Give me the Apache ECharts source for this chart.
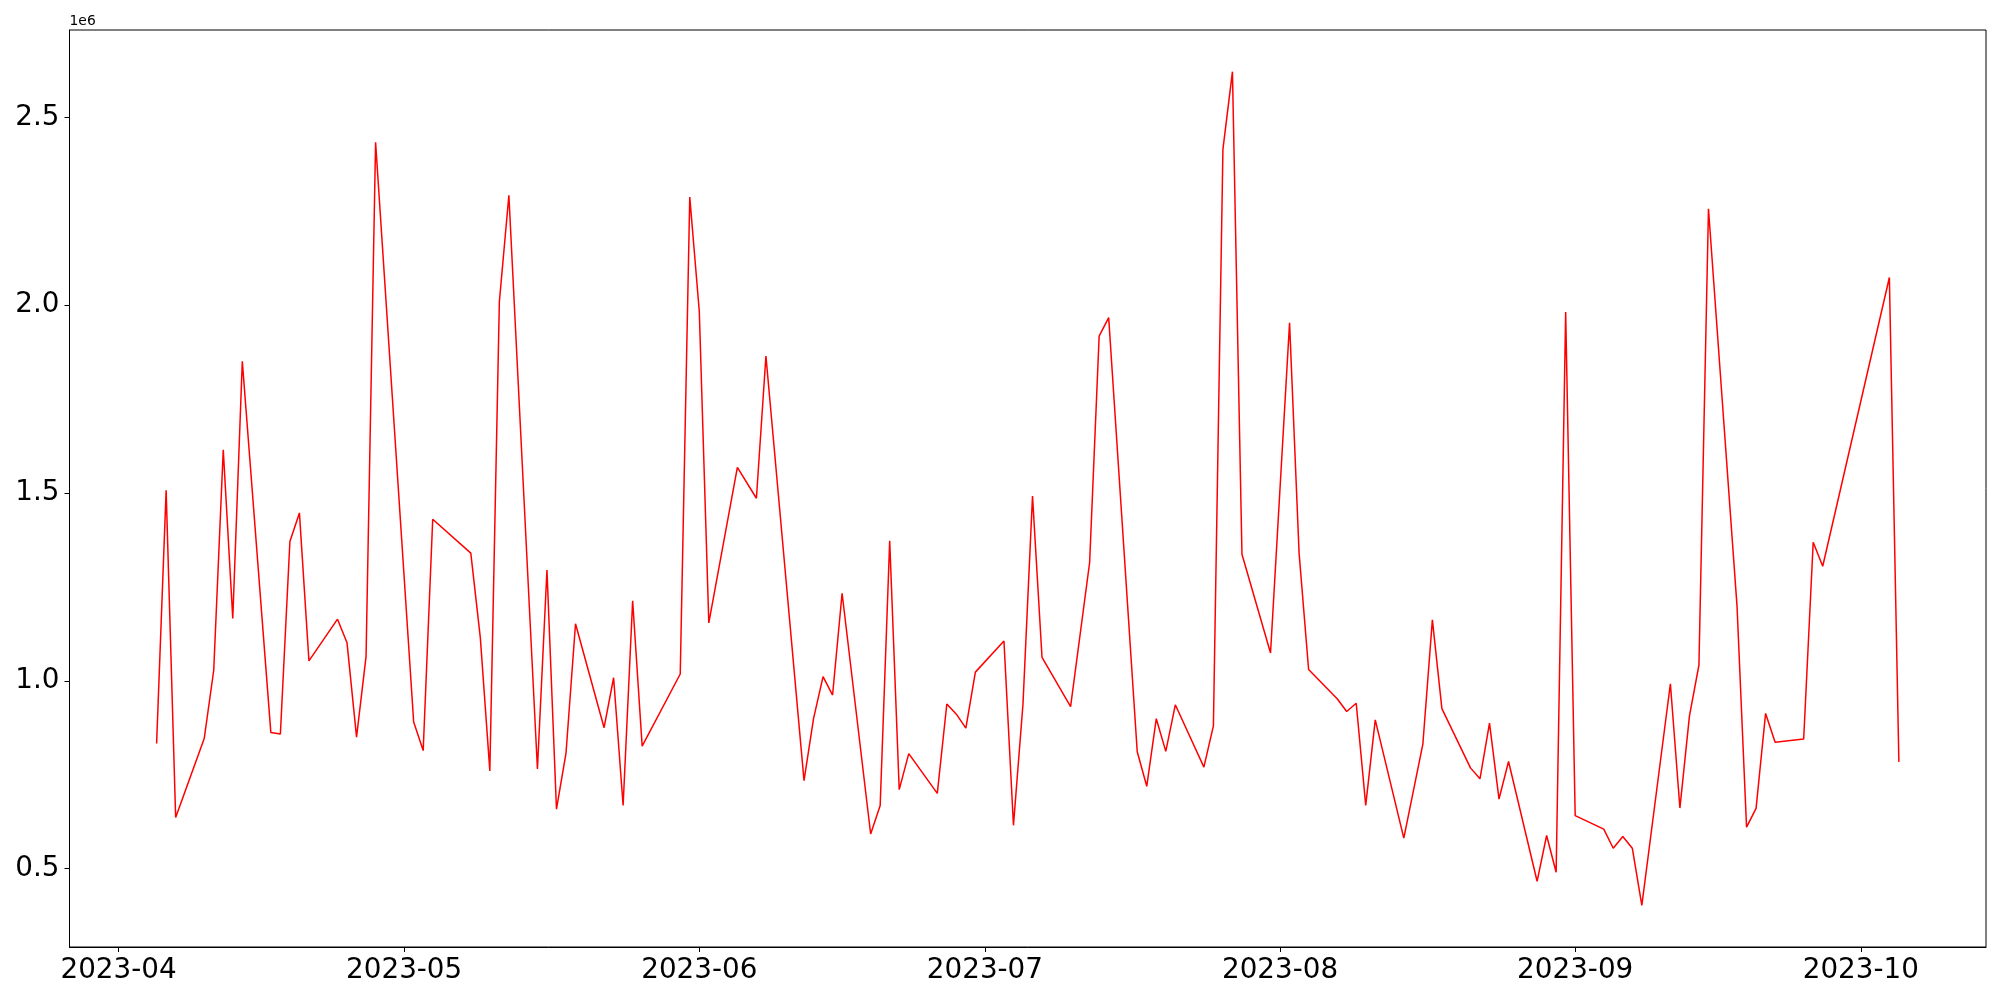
<!DOCTYPE html>
<html><head><meta charset="utf-8">
<script src="https://cdn.jsdelivr.net/npm/echarts@6/dist/echarts.min.js"></script>
<style>html,body{margin:0;padding:0;background:#fff}#c{width:2000px;height:1000px}</style>
</head><body><div id="c"></div>
<script>
const dates = [
'2023-04-05','2023-04-06','2023-04-07','2023-04-10','2023-04-11','2023-04-12','2023-04-13','2023-04-14',
'2023-04-17','2023-04-18','2023-04-19','2023-04-20','2023-04-21','2023-04-24','2023-04-25','2023-04-26',
'2023-04-27','2023-04-28','2023-05-02','2023-05-03','2023-05-04','2023-05-08','2023-05-09','2023-05-10',
'2023-05-11','2023-05-12','2023-05-15','2023-05-16','2023-05-17','2023-05-18','2023-05-19','2023-05-22',
'2023-05-23','2023-05-24','2023-05-25','2023-05-26','2023-05-30','2023-05-31','2023-06-01','2023-06-02',
'2023-06-05','2023-06-07','2023-06-08','2023-06-12','2023-06-13','2023-06-14','2023-06-15','2023-06-16',
'2023-06-19','2023-06-20','2023-06-21','2023-06-22','2023-06-23','2023-06-26','2023-06-27','2023-06-28',
'2023-06-29','2023-06-30','2023-07-03','2023-07-04','2023-07-05','2023-07-06','2023-07-07','2023-07-10',
'2023-07-12','2023-07-13','2023-07-14','2023-07-17','2023-07-18','2023-07-19','2023-07-20','2023-07-21',
'2023-07-24','2023-07-25','2023-07-26','2023-07-27','2023-07-28','2023-07-31','2023-08-02','2023-08-03',
'2023-08-04','2023-08-07','2023-08-08','2023-08-09','2023-08-10','2023-08-11','2023-08-14','2023-08-16',
'2023-08-17','2023-08-18','2023-08-21','2023-08-22','2023-08-23','2023-08-24','2023-08-25','2023-08-28',
'2023-08-29','2023-08-30','2023-08-31','2023-09-01','2023-09-04','2023-09-05','2023-09-06','2023-09-07',
'2023-09-08','2023-09-11','2023-09-12','2023-09-13','2023-09-14','2023-09-15','2023-09-18','2023-09-19',
'2023-09-20','2023-09-21','2023-09-22','2023-09-25','2023-09-26','2023-09-27','2023-10-04','2023-10-05'
];
const values = [
833000,1507000,636000,846000,1028000,1615000,1166000,1851000,
862000,858000,1371000,1447000,1053000,1164000,1101000,850000,
1065000,2434000,890000,814000,1430000,1340000,1115000,760000,
2009000,2293000,765000,1295000,658000,807000,1152000,875000,
1008000,668000,1213000,826000,1018000,2288000,1984000,1154000,
1568000,1486000,1865000,734000,899000,1011000,962000,1233000,
592000,668000,1373000,710000,806000,700000,938000,911000,
874000,1023000,1106000,615000,938000,1492000,1062000,931000,
1315000,1918000,1967000,811000,719000,899000,812000,936000,
770000,880000,2415000,2622000,1337000,1074000,1953000,1340000,
1030000,952000,918000,940000,668000,896000,581000,831000,
1162000,926000,768000,739000,887000,685000,785000,466000,
588000,490000,1982000,641000,605000,554000,585000,554000,
402000,992000,661000,906000,1042000,2257000,1198000,610000,
660000,913000,836000,845000,1369000,1305000,2074000,784000
];
const xTickLabels = ['2023-04','2023-05','2023-06','2023-07','2023-08','2023-09','2023-10'];
const yTickValues = [500000,1000000,1500000,2000000,2500000];
const offsetLabel = '1e6';

function utc(s){const p=s.split('-').map(Number);return Date.UTC(p[0],p[1]-1,p[2]||1);}
const xs = dates.map(utc);
const xMinD = Math.min.apply(null,xs), xMaxD = Math.max.apply(null,xs);
const xPad = (xMaxD-xMinD)*0.05;
const vMin = Math.min.apply(null,values), vMax = Math.max.apply(null,values);
const yPad = (vMax-vMin)*0.05;
const xTickValues = xTickLabels.map(s=>utc(s+'-01'));

const font = 'DejaVu Sans';
const chart = echarts.init(document.getElementById('c'), null, {renderer:'canvas'});
chart.setOption({
  animation:false,
  backgroundColor:'#fff',
  grid:{left:69.5,right:14,top:30,bottom:53,containLabel:false,outerBoundsMode:'none',
        show:true,borderColor:'#000',borderWidth:1,backgroundColor:'transparent'},
  xAxis:{
    type:'value', min:xMinD-xPad, max:xMaxD+xPad,
    splitLine:{show:false},
    axisLine:{show:true,lineStyle:{color:'#000',width:1}},
    axisTick:{show:true,inside:false,length:5,lineStyle:{color:'#000',width:1},customValues:xTickValues},
    axisLabel:{customValues:xTickValues,color:'#000',fontFamily:font,fontSize:27.8,margin:10,
      formatter:function(v){const d=new Date(v);return d.getUTCFullYear()+'-'+String(d.getUTCMonth()+1).padStart(2,'0');}}
  },
  yAxis:{
    type:'value', min:vMin-yPad, max:vMax+yPad,
    splitLine:{show:false},
    axisLine:{show:true,lineStyle:{color:'#000',width:1}},
    axisTick:{show:true,inside:false,length:5,lineStyle:{color:'#000',width:1},customValues:yTickValues},
    axisLabel:{customValues:yTickValues,color:'#000',fontFamily:font,fontSize:27.8,margin:10,
      formatter:function(v){return (v/1e6).toFixed(1);}}
  },
  series:[{
    type:'line', data:xs.map((x,i)=>[x,values[i]]),
    symbol:'none', showSymbol:false, smooth:false,
    lineStyle:{color:'#ff0000',width:1.5}, itemStyle:{color:'#ff0000'}
  }],
  graphic:[{type:'text',left:69.5,top:14,style:{text:offsetLabel,fill:'#000',font:'13.9px "DejaVu Sans"'}}]
});
</script></body></html>
